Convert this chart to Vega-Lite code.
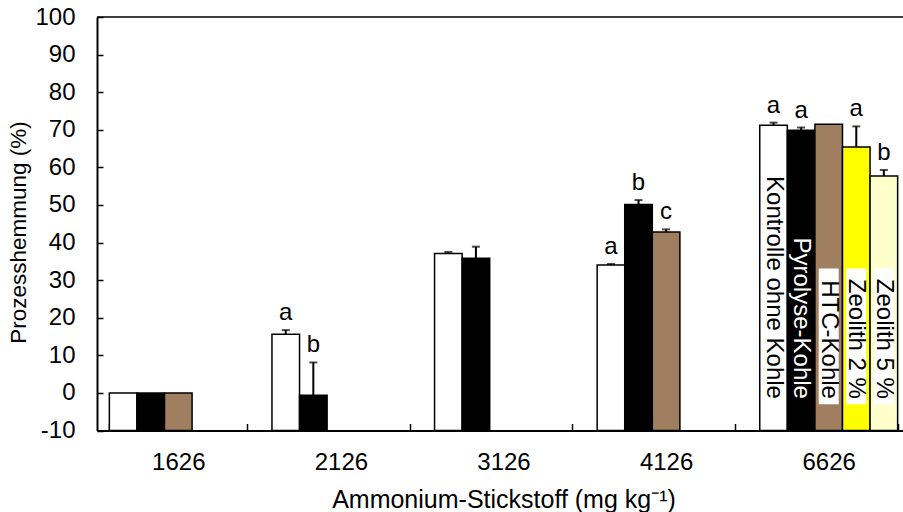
{
  "$schema": "https://vega.github.io/schema/vega-lite/v6.json",
  "width": 806,
  "height": 413.5,
  "autosize": {"type": "none"},
  "padding": {"left": 97, "top": 17, "right": 0, "bottom": 81.5},
  "background": "white",
  "config": {
    "font": "Liberation Sans",
    "view": {"stroke": null},
    "axis": {"labelFont": "Liberation Sans", "titleFont": "Liberation Sans", "labelColor": "black", "titleColor": "black", "titleFontWeight": "normal", "labelFontSize": 24, "titleFontSize": 24, "domainColor": "black", "domainWidth": 2, "tickColor": "black", "tickWidth": 1.5, "grid": false},
    "axisY": {"title": "Prozesshemmung (%)", "values": [-10, 0, 10, 20, 30, 40, 50, 60, 70, 80, 90, 100], "labelExpr": "'' + datum.value", "labelOverlap": false, "tickSize": -6, "labelPadding": 28, "titlePadding": 4, "titleFontSize": 22.5, "titleY": 215}
  },
  "data": {
    "values": [
      {"N": "1626", "treatment": "Kontrolle ohne Kohle", "value": 0},
      {"N": "1626", "treatment": "Pyrolyse-Kohle", "value": 0},
      {"N": "1626", "treatment": "HTC-Kohle", "value": 0},
      {"N": "2126", "treatment": "Kontrolle ohne Kohle", "value": 15.6, "upper": 16.7, "letter": "a"},
      {"N": "2126", "treatment": "Pyrolyse-Kohle", "value": -0.6, "upper": 8.1, "letter": "b"},
      {"N": "3126", "treatment": "Kontrolle ohne Kohle", "value": 37.1, "upper": 37.5},
      {"N": "3126", "treatment": "Pyrolyse-Kohle", "value": 35.8, "upper": 38.9},
      {"N": "4126", "treatment": "Kontrolle ohne Kohle", "value": 34.0, "upper": 34.3, "letter": "a"},
      {"N": "4126", "treatment": "Pyrolyse-Kohle", "value": 50.1, "upper": 51.3, "letter": "b"},
      {"N": "4126", "treatment": "HTC-Kohle", "value": 42.8, "upper": 43.5, "letter": "c"},
      {"N": "6626", "treatment": "Kontrolle ohne Kohle", "value": 71.2, "upper": 71.9, "letter": "a"},
      {"N": "6626", "treatment": "Pyrolyse-Kohle", "value": 69.9, "upper": 70.6, "letter": "a"},
      {"N": "6626", "treatment": "HTC-Kohle", "value": 71.5},
      {"N": "6626", "treatment": "Zeolith 2 %", "value": 65.4, "upper": 70.9, "letter": "a"},
      {"N": "6626", "treatment": "Zeolith 5 %", "value": 57.7, "upper": 59.3, "letter": "b"}
    ]
  },
  "layer": [
    {
      "encoding": {
        "x": {
          "field": "N", "type": "nominal",
          "sort": ["1626", "2126", "3126", "4126", "6626"],
          "scale": {"range": [0, 813], "paddingInner": 0.152, "paddingOuter": 0.076},
          "axis": {"title": "Ammonium-Stickstoff (mg kg⁻¹)", "labelAngle": 0, "tickBand": "extent", "tickSize": -7, "labelPadding": 26.5, "titlePadding": 13, "titleFontSize": 25}
        },
        "xOffset": {
          "field": "treatment", "type": "nominal",
          "scale": {"domain": ["Kontrolle ohne Kohle", "Pyrolyse-Kohle", "HTC-Kohle", "Zeolith 2 %", "Zeolith 5 %"], "paddingInner": 0, "paddingOuter": 0}
        }
      },
      "layer": [
        {
          "mark": {"type": "bar", "stroke": "black", "strokeWidth": 1.5},
          "encoding": {
            "y": {"field": "value", "type": "quantitative", "title": "Prozesshemmung (%)",
              "scale": {"domain": [-10, 100], "nice": false, "zero": false}},
            "y2": {"datum": -10},
            "fill": {"field": "treatment", "type": "nominal", "legend": null,
              "scale": {"domain": ["Kontrolle ohne Kohle", "Pyrolyse-Kohle", "HTC-Kohle", "Zeolith 2 %", "Zeolith 5 %"], "range": ["#ffffff", "#000000", "#9f7f60", "#ffff00", "#ffffcc"]}}
          }
        },
        {
          "transform": [{"filter": "isValid(datum.upper)"}],
          "mark": {"type": "rule", "color": "black", "strokeWidth": 2},
          "encoding": {
            "y": {"field": "value", "type": "quantitative", "title": "Prozesshemmung (%)"},
            "y2": {"field": "upper"}
          }
        },
        {
          "transform": [{"filter": "isValid(datum.upper)"}],
          "mark": {"type": "tick", "orient": "horizontal", "color": "black", "size": 8, "thickness": 2},
          "encoding": {
            "y": {"field": "upper", "type": "quantitative", "title": "Prozesshemmung (%)"}
          }
        },
        {
          "transform": [{"filter": "isValid(datum.letter)"}],
          "mark": {"type": "text", "fontSize": 24, "baseline": "alphabetic", "dy": -10, "color": "black"},
          "encoding": {
            "y": {"field": "upper", "type": "quantitative", "title": "Prozesshemmung (%)"},
            "text": {"field": "letter"}
          }
        },
        {
          "transform": [{"filter": "datum.N === '6626' && (datum.treatment === 'HTC-Kohle' || datum.treatment === 'Zeolith 2 %' || datum.treatment === 'Zeolith 5 %')"}],
          "mark": {"type": "bar", "fill": "white", "size": 20},
          "encoding": {
            "y": {"datum": 33.1, "title": "Prozesshemmung (%)"},
            "y2": {"datum": -3.0}
          }
        },
        {
          "transform": [{"filter": "datum.N === '6626'"}],
          "mark": {"type": "text", "fontSize": 24, "angle": 90, "align": "right", "baseline": "middle"},
          "encoding": {
            "y": {"datum": -1.6, "title": "Prozesshemmung (%)"},
            "text": {"field": "treatment"},
            "color": {"condition": {"test": "datum.treatment === 'Pyrolyse-Kohle'", "value": "white"}, "value": "black"}
          }
        }
      ]
    },
    {
      "data": {"values": [{}]},
      "mark": {"type": "rule", "color": "black", "strokeWidth": 1.5},
      "encoding": {"y": {"datum": 100, "title": "Prozesshemmung (%)"}}
    }
  ]
}
